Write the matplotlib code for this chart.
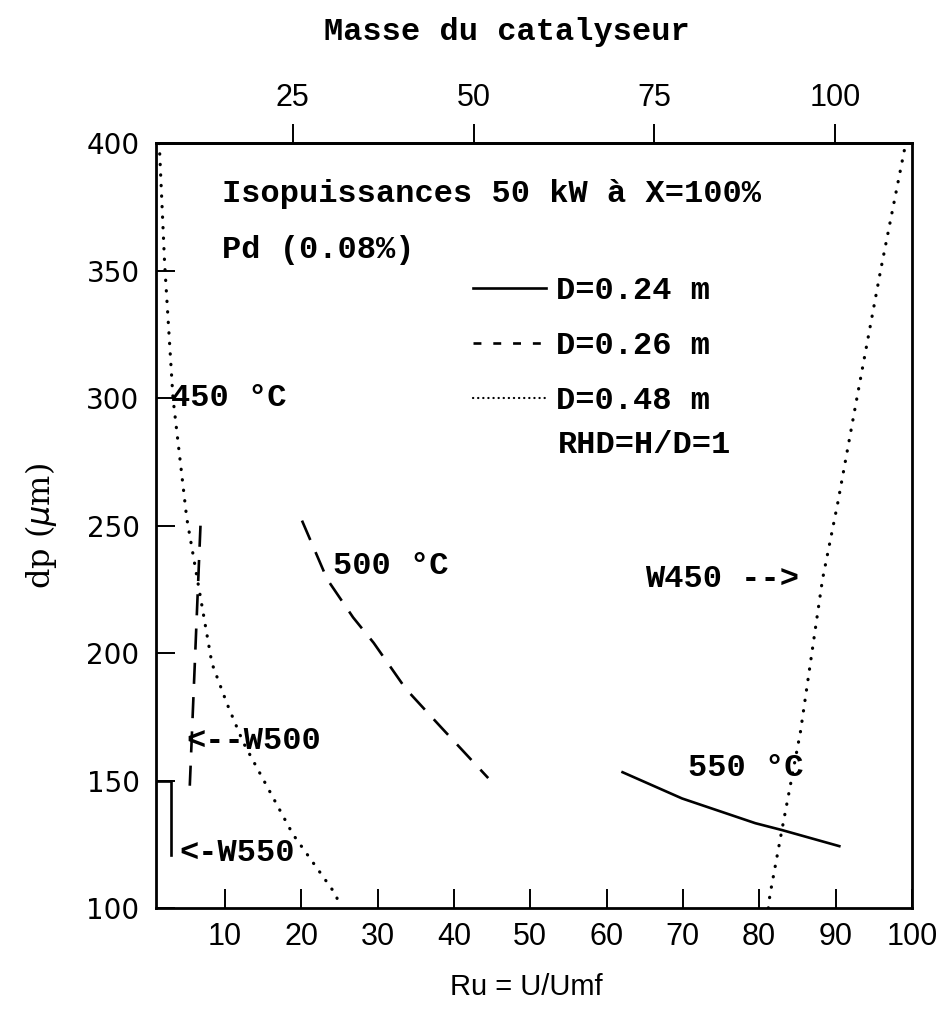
import numpy as np
import matplotlib
matplotlib.use("Agg")
import matplotlib.pyplot as plt
from matplotlib.lines import Line2D

# Data (x = Ru = U/Umf, y = dp in um)
# D=0.48 m, 450 C isopower curve (dotted, left)
iso450_x = [1.4, 2.1, 3.2, 5.0, 8.3, 10.3, 12.4, 18.9, 24.6, 25.0]
iso450_y = [400, 353, 300, 253, 196, 180, 165, 129, 105, 100]
# D=0.48 m, W450 curve (dotted, right)
w450_x = [81.2, 81.4, 83.0, 85.4, 88.3, 90.3, 92.8, 95.9, 99.2]
w450_y = [100, 105, 131, 169, 229, 259, 300, 350, 400]
# D=0.26 m, 500 C (dashed)
iso500_x = [20.1, 23.4, 26.8, 29.5, 33.7, 38.3, 44.5]
iso500_y = [252, 229, 214, 204, 186, 171, 151]
# D=0.26 m, W500 (dashed, near vertical)
w500_x = [6.8, 5.4]
w500_y = [250, 148]
# D=0.24 m, 550 C (solid)
iso550_x = [62.1, 69.9, 79.5, 83.0, 90.5]
iso550_y = [153.3, 143, 133.3, 130.6, 124.3]
# D=0.24 m, W550 (solid)
w550_x = [1.0, 2.9, 2.9]
w550_y = [150, 150, 121]

xticks = [10, 20, 30, 40, 50, 60, 70, 80, 90, 100]
yticks = [100, 150, 200, 250, 300, 350, 400]
top_ticks = [25, 50, 75, 100]

MONO = "Liberation Mono"
SANS = "Liberation Sans"

fig = plt.figure(figsize=(9.41, 10.09), dpi=100)
ax = fig.add_axes([0.166, 0.100, 0.803, 0.758])

dot = (0, (0.1, 3.2))
dash = (0, (8, 5))
lw = 1.9
dkw = dict(color="black", lw=2.3, ls=dot, dash_capstyle="round")
ax.plot(iso450_x, iso450_y, **dkw)
ax.plot(w450_x, w450_y, **dkw)
ax.plot(iso500_x, iso500_y, color="black", lw=lw, ls=dash)
ax.plot(w500_x, w500_y, color="black", lw=lw, ls=dash)
ax.plot(iso550_x, iso550_y, color="black", lw=lw)
ax.plot(w550_x, w550_y, color="black", lw=lw)

ax.set_xlim(1, 100)
ax.set_ylim(100, 400)
for s in ax.spines.values():
    s.set_linewidth(2.0)

ax.set_xticks(xticks)
ax.set_yticks(yticks)
ax.tick_params(axis="x", direction="in", length=14, width=1.4, pad=10,
               labelsize=22)
ax.tick_params(axis="y", direction="in", length=14, width=1.4, pad=12,
               labelsize=20)
for lab in ax.get_xticklabels():
    lab.set_fontfamily(SANS)
for lab in ax.get_yticklabels():
    lab.set_fontfamily("DejaVu Sans")

ax.set_xlabel("Ru = U/Umf", fontfamily=SANS, fontsize=21, labelpad=15)
ax.xaxis.label.set_x(0.49)
ax.set_ylabel(r"dp ($\mu$m)", fontfamily="DejaVu Serif", fontsize=23,
              labelpad=20)

# top axis: catalyst mass
sec = ax.secondary_xaxis("top", functions=(lambda x: 1.056 * x + 5.04,
                                           lambda t: (t - 5.04) / 1.056))
sec.set_xticks(top_ticks)
sec.tick_params(direction="out", length=14, width=1.4, pad=8, labelsize=22)
for lab in sec.get_xticklabels():
    lab.set_fontfamily(SANS)
sec.spines["top"].set_linewidth(2.0)
sec.set_xlabel("Masse du catalyseur", fontfamily=MONO, fontweight="bold",
               fontsize=23, labelpad=31)
sec.xaxis.label.set_x(0.464)

tkw = dict(fontfamily=MONO, fontweight="bold", fontsize=23, va="center",
           ha="left")
ax.text(9.6, 380, "Isopuissances 50 kW à X=100%", **tkw)
ax.text(9.6, 358, "Pd (0.08%)", **tkw)
ax.text(3.0, 300, "450 °C", **tkw)
ax.text(24.2, 234, "500 °C", **tkw)
ax.text(65.0, 229, "W450 -->", **tkw)
ax.text(5.0, 165.5, "<--W500", **tkw)
ax.text(4.1, 121.6, "<-W550", **tkw)
ax.text(70.7, 155, "550 °C", **tkw)
ax.text(53.6, 281.6, "RHD=H/D=1", **tkw)

handles = [Line2D([], [], color="black", lw=lw),
           Line2D([], [], color="black", lw=lw, ls=(0, (3, 4.5))),
           Line2D([], [], color="black", lw=1.6, ls=(0, (0.1, 2.2)),
                  dash_capstyle="round")]
leg = ax.legend(handles, ["D=0.24 m", "D=0.26 m", "D=0.48 m"],
                loc="upper left", bbox_to_anchor=(0.419, 0.826),
                frameon=False, borderpad=0, borderaxespad=0,
                handlelength=2.3, handletextpad=0.3, labelspacing=0.78,
                prop=dict(family=MONO, weight="bold", size=23))

fig.savefig("out.png", dpi=100)
